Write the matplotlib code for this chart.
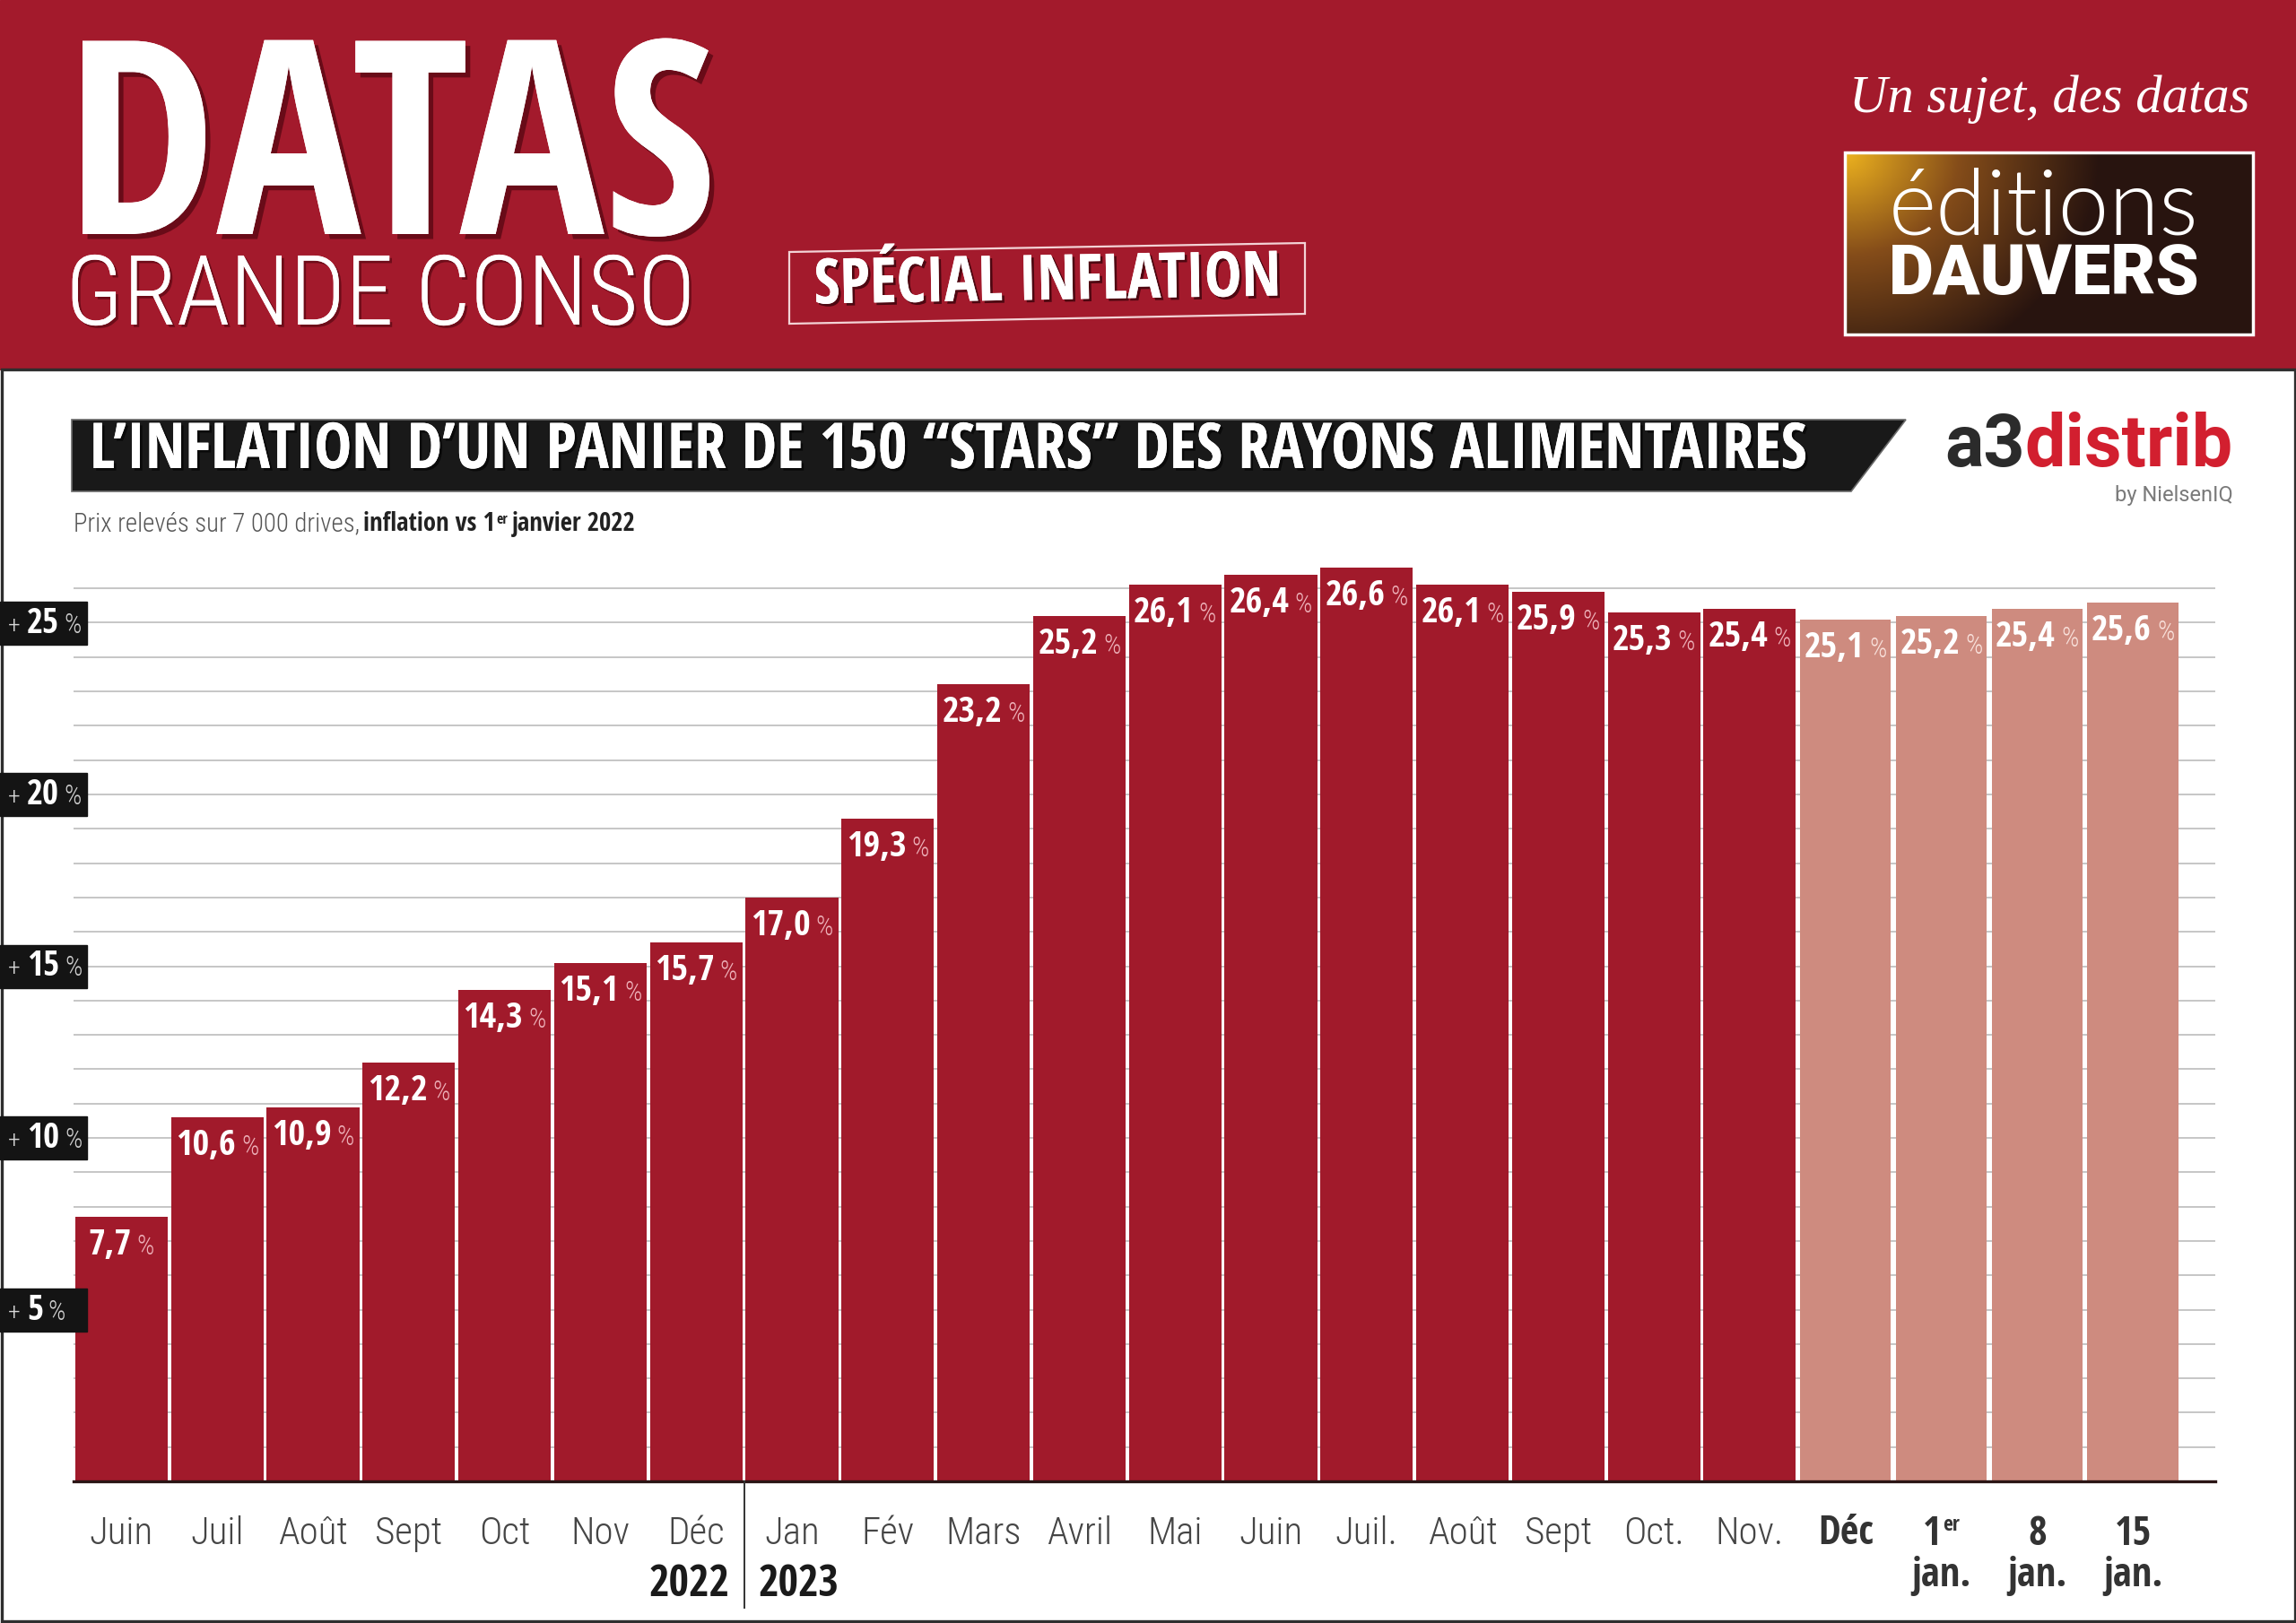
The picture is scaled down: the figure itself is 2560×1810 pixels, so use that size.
import numpy as np
import matplotlib
matplotlib.use("Agg")
import matplotlib.pyplot as plt
import matplotlib.font_manager as fm
import matplotlib.patheffects as pe
from matplotlib.patches import Rectangle, Polygon

# ---------------- data ----------------
months = ['Juin', 'Juil', 'Août', 'Sept', 'Oct', 'Nov', 'Déc',
          'Jan', 'Fév', 'Mars', 'Avril', 'Mai', 'Juin', 'Juil.', 'Août',
          'Sept', 'Oct.', 'Nov.']
monthly_values = [7.7, 10.6, 10.9, 12.2, 14.3, 15.1, 15.7,
                  17.0, 19.3, 23.2, 25.2, 26.1, 26.4, 26.6, 26.1,
                  25.9, 25.3, 25.4]
weekly_top = ['Déc', '1', '8', '15']
weekly_sup = ['', 'er', '', '']
weekly_bottom = ['', 'jan.', 'jan.', 'jan.']
weekly_values = [25.1, 25.2, 25.4, 25.6]
y_ticks = [5, 10, 15, 20, 25]
years = ['2022', '2023']

title = "L’INFLATION D’UN PANIER DE 150 “STARS” DES RAYONS ALIMENTAIRES"

RED = '#A11A2B'
PINK = '#CE8B7F'
HEAD = '#A31A2C'

# ---------------- fonts ----------------
def _wt(f):
    w = f.weight
    if isinstance(w, str):
        w = fm.weight_dict.get(w, 400)
    return int(w)

def find_font(cands, target, style='normal', tol=160):
    for fam, stretch in cands:
        best, bd = None, 1e9
        for f in fm.fontManager.ttflist:
            if f.name != fam or f.style != style:
                continue
            if stretch is not None and f.stretch != stretch:
                continue
            d = abs(_wt(f) - target)
            if d < bd:
                best, bd = f, d
        if best is not None and bd <= tol:
            return fm.FontProperties(fname=best.fname)
    return None

COND_BOLD = [('Open Sans Condensed', None), ('Open Sans', 'condensed'),
             ('Roboto Condensed', None), ('Noto Sans', 'condensed'),
             ('Noto Sans Condensed', None), ('Liberation Sans Narrow', None),
             ('DejaVu Sans', 'condensed'), ('Open Sans', 'semi-condensed'),
             ('Noto Sans', 'semi-condensed')]
COND_LIGHT = [('Roboto Condensed', None), ('Open Sans Condensed', None),
              ('Open Sans', 'condensed'), ('Noto Sans', 'condensed'),
              ('Noto Sans Condensed', None), ('Liberation Sans Narrow', None),
              ('DejaVu Sans', 'condensed'), ('Open Sans', 'semi-condensed'),
              ('Noto Sans', 'semi-condensed')]

FB = find_font(COND_BOLD, 700) or fm.FontProperties(family='DejaVu Sans', weight='bold')
FBK = find_font(COND_BOLD, 900, tol=250) or FB
FL = find_font(COND_LIGHT, 300, tol=120) or find_font(COND_LIGHT, 400) or \
    fm.FontProperties(family='DejaVu Sans', weight='light')
SANS_R = find_font([('Roboto', 'normal'), ('Liberation Sans', 'normal'),
                    ('Open Sans', 'normal'), ('Lato', 'normal')], 400) or \
    fm.FontProperties(family='DejaVu Sans')
SANS_B = find_font([('Roboto', 'normal'), ('Liberation Sans', 'normal'),
                    ('Open Sans', 'normal'), ('Lato', 'normal')], 700) or \
    fm.FontProperties(family='DejaVu Sans', weight='bold')
SANS_BK = find_font([('Roboto', 'normal'), ('Lato', 'normal'),
                     ('Open Sans', 'normal')], 900, tol=120) or SANS_B
SANS_L = find_font([('Lato', 'normal'), ('Roboto', 'normal'),
                    ('Open Sans', 'normal'), ('Noto Sans', 'normal')], 300, tol=100) or SANS_R
SERIF_I = find_font([('Liberation Serif', None), ('DejaVu Serif', None)], 400,
                    style='italic') or fm.FontProperties(family='serif', style='italic')

# ---------------- figure ----------------
W, H = 2560, 1810
fig = plt.figure(figsize=(W / 100, H / 100), dpi=100, facecolor='white')
bg = fig.add_axes([0, 0, 1, 1], zorder=0)
bg.set_xlim(0, W)
bg.set_ylim(H, 0)
bg.set_autoscale_on(False)
bg.axis('off')

R = fig.canvas.get_renderer()


def tw(s, prop, size):
    p = prop.copy()
    p.set_size(size)
    w, h, d = R.get_text_width_height_descent(s, p, ismath=False)
    return w


def fp(prop, size):
    p = prop.copy()
    p.set_size(size)
    return p


def place_fit(x, y, s, prop, target_w, color='white', ha='left', va='baseline', **kw):
    size = 100 * target_w / tw(s, prop, 100)
    return bg.text(x, y, s, fontproperties=fp(prop, size), color=color,
                   ha=ha, va=va, **kw)


def seq_bg(x, y, pieces, total_w=None, **kw):
    # pieces: (text, prop, size, color, dy, gap_after)
    widths = [tw(s, p, sz) for s, p, sz, c, dy, g in pieces]
    gaps = [g for s, p, sz, c, dy, g in pieces]
    k = 1.0
    if total_w:
        k = total_w / (sum(widths) + sum(gaps[:-1]))
    cx = x
    for (s, p, sz, c, dy, g), w in zip(pieces, widths):
        bg.text(cx, y + dy * k, s, fontproperties=fp(p, sz * k), color=c,
                ha='left', va='baseline', **kw)
        cx += (w + g) * k
    return k


# ---------------- header ----------------
bg.add_patch(Rectangle((0, 0), W, 412, color=HEAD, zorder=1))
shadow = [pe.withSimplePatchShadow(offset=(4, -4), shadow_rgbFace='#3a0008', alpha=0.55),
          pe.Normal()]
place_fit(73, 261, 'DATAS', FBK, 725, path_effects=shadow, zorder=3)
place_fit(73, 362, 'GRANDE CONSO', FL, 702, zorder=3,
          path_effects=[pe.withSimplePatchShadow(offset=(2, -2), shadow_rgbFace='#3a0008',
                                                 alpha=0.5), pe.Normal()])

bg.add_patch(Polygon([(880, 281), (1455, 271), (1455, 350), (880, 361)], closed=True,
                     fill=False, edgecolor='#F3D3D6', lw=1.6, zorder=3))
sp_size = 100 * 521 / tw('SPÉCIAL INFLATION', FB, 100)
bg.text(1168, 316, 'SPÉCIAL INFLATION', fontproperties=fp(FB, sp_size), color='white',
        ha='center', va='center', rotation=1, rotation_mode='anchor', zorder=4,
        path_effects=[pe.withSimplePatchShadow(offset=(2, -2), shadow_rgbFace='#2a0006',
                                               alpha=0.7), pe.Normal()])

place_fit(2062, 125, 'Un sujet, des datas', SERIF_I, 446, zorder=3)

# logo box with gradient
gh, gw = 200, 455
yy, xx = np.mgrid[0:gh, 0:gw]
t = np.clip(np.sqrt((xx / (0.62 * gw)) ** 2 + (yy / (1.25 * gh)) ** 2), 0, 1)
gold = np.array([0.93, 0.70, 0.12])
bronze = np.array([0.52, 0.30, 0.10])
dark = np.array([0.16, 0.08, 0.06])
t1 = np.clip(t / 0.45, 0, 1)[..., None]
t2 = np.clip((t - 0.45) / 0.55, 0, 1)[..., None]
img = np.where(t[..., None] < 0.45, gold * (1 - t1) + bronze * t1,
               bronze * (1 - t2) + dark * t2)
bg.imshow(img, extent=[2057, 2512, 373, 170], origin='upper', aspect='auto',
          zorder=2, interpolation='bilinear')
bg.add_patch(Rectangle((2057, 170), 455, 203, fill=False, edgecolor='white', lw=2.5,
                       zorder=3))
place_fit(2106, 262, 'éditions', SANS_L, 345, zorder=4)
place_fit(2106, 328, 'DAUVERS', SANS_BK, 347, zorder=4)
bg.set_xlim(0, W)
bg.set_ylim(H, 0)

# white panel frame
bg.add_patch(Rectangle((1.5, 412), W - 3, 1807.5 - 412, fill=False,
                       edgecolor='#2e2e2e', lw=2.4, zorder=1))

# ---------------- title bar ----------------
bg.add_patch(Polygon([(80, 468), (2125, 468), (2064, 548), (80, 548)], closed=True,
                     facecolor='#191919', edgecolor='#6a6a6a', lw=1.2, zorder=2))
place_fit(100, 522, title, FB, 1915, zorder=3,
          path_effects=[pe.withSimplePatchShadow(offset=(2, -2), shadow_rgbFace='black',
                                                 alpha=0.6), pe.Normal()])

# a3distrib logo
seq_bg(2168, 520, [('a3', SANS_B, 60, '#2B2B2B', 0, 0),
                   ('distrib', SANS_B, 60, '#D21F2F', 0, 0)], total_w=322, zorder=3)
bg.text(2490, 559, 'by NielsenIQ', fontproperties=fp(SANS_R, 17), color='#7A7A7A',
        ha='right', va='baseline', zorder=3)

# subtitle
sp = tw('a a', FL, 20) - tw('aa', FL, 20)
seq_bg(82, 592, [('Prix relevés sur 7 000 drives,', FL, 20, '#555555', 0, sp),
                 ('inflation vs 1', FB, 20, '#222222', 0, 1),
                 ('er', FB, 11, '#222222', -8, sp * 0.8),
                 ('janvier 2022', FB, 20, '#222222', 0, 0)], total_w=627, zorder=3)

# ---------------- chart ----------------
left_px, right_px, base_px, top_px = 82, 2470, 1652, 620
ax = fig.add_axes([left_px / W, (H - base_px) / H, (right_px - left_px) / W,
                   (base_px - top_px) / H], zorder=2)
ax.patch.set_alpha(0)
ppu = 38.3
ax.set_xlim(-0.5, 21.86)
ax.set_ylim(0, (base_px - top_px) / ppu)
for s in ax.spines.values():
    s.set_visible(False)
ax.set_xticks([])
ax.set_yticks([])

for g in range(1, 27):
    ax.axhline(g, color='#C6C6C6', lw=1.4, zorder=0)

n_m = len(monthly_values)
x_m = np.arange(n_m)
x_w = np.arange(n_m, n_m + len(weekly_values))
ax.bar(x_m, monthly_values, width=0.965, color=RED, zorder=2)
ax.bar(x_w, weekly_values, width=0.95, color=PINK, zorder=2)
ax.axhline(0, color='#2A1414', lw=2.4, zorder=3, clip_on=False)

axw = right_px - left_px
axh = base_px - top_px
unit_px = axw / (21.86 + 0.5)

# bar value labels
all_vals = list(monthly_values) + list(weekly_values)
num_size, pct_size, gap = 29, 22, 6
maxtot = max(tw(f"{v:.1f}".replace('.', ','), FB, num_size) + gap + tw('%', FL, pct_size)
             for v in all_vals)
k = min(1.0, 0.92 * 0.965 * unit_px / maxtot)
for i, v in enumerate(all_vals):
    s = f"{v:.1f}".replace('.', ',')
    wn = tw(s, FB, num_size * k)
    wp = tw('%', FL, pct_size * k)
    tot = wn + gap * k + wp
    pcol = '#EDB0B8' if i < n_m else '#F8E0DA'
    ax.annotate(s, xy=(i, v), xytext=(-tot / 2, -42), textcoords='offset pixels',
                ha='left', va='baseline', color='white',
                fontproperties=fp(FB, num_size * k), zorder=5)
    ax.annotate('%', xy=(i, v), xytext=(-tot / 2 + wn + gap * k, -42),
                textcoords='offset pixels', ha='left', va='baseline', color=pcol,
                fontproperties=fp(FL, pct_size * k), zorder=5)

# y labels (black tabs)
ytr = ax.get_yaxis_transform()
for v in y_ticks:
    ax.add_patch(Rectangle((-left_px / axw, v - 24 / ppu), 97 / axw, 48 / ppu,
                           transform=ytr, color='#141414', zorder=6, clip_on=False))
    wplus = tw('+', FL, 20)
    wnum = tw(str(v), FB, 28)
    x0 = 9
    ax.annotate('+', xy=(0, v), xycoords=ytr, xytext=(x0 - left_px, -11),
                textcoords='offset pixels', ha='left', va='baseline', color='#D8D8D8',
                fontproperties=fp(FL, 20), zorder=7, annotation_clip=False)
    x1 = x0 + wplus + 7
    ax.annotate(str(v), xy=(0, v), xycoords=ytr, xytext=(x1 - left_px, -11),
                textcoords='offset pixels', ha='left', va='baseline', color='white',
                fontproperties=fp(FB, 28), zorder=7, annotation_clip=False)
    x2 = x1 + wnum + 6
    ax.annotate('%', xy=(0, v), xycoords=ytr, xytext=(x2 - left_px, -11),
                textcoords='offset pixels', ha='left', va='baseline', color='#D0D0D0',
                fontproperties=fp(FL, 22), zorder=7, annotation_clip=False)

# x labels
xtr = ax.get_xaxis_transform()
msize = 31
maxw = max(tw(m, FL, msize) for m in months)
msize = msize * min(1.0, 0.95 * unit_px / maxw)
for i, m in enumerate(months):
    ax.annotate(m, xy=(i, 0), xycoords=xtr, xytext=(0, -70), textcoords='offset pixels',
                ha='center', va='baseline', color='#454545',
                fontproperties=fp(FL, msize), annotation_clip=False)

wsize = 32
for j, (top, sup, bot) in enumerate(zip(weekly_top, weekly_sup, weekly_bottom)):
    xi = n_m + j
    if sup:
        w1 = tw(top, FB, wsize)
        w2 = tw(sup, FB, 17)
        tot = w1 + 2 + w2
        ax.annotate(top, xy=(xi, 0), xycoords=xtr, xytext=(-tot / 2, -71),
                    textcoords='offset pixels', ha='left', va='baseline', color='#333333',
                    fontproperties=fp(FB, wsize), annotation_clip=False)
        ax.annotate(sup, xy=(xi, 0), xycoords=xtr, xytext=(-tot / 2 + w1 + 2, -55),
                    textcoords='offset pixels', ha='left', va='baseline', color='#333333',
                    fontproperties=fp(FB, 17), annotation_clip=False)
    else:
        ax.annotate(top, xy=(xi, 0), xycoords=xtr, xytext=(0, -71 if bot else -70),
                    textcoords='offset pixels', ha='center', va='baseline',
                    color='#333333', fontproperties=fp(FB, wsize), annotation_clip=False)
    if bot:
        ax.annotate(bot, xy=(xi, 0), xycoords=xtr, xytext=(0, -117),
                    textcoords='offset pixels', ha='center', va='baseline',
                    color='#333333', fontproperties=fp(FB, wsize), annotation_clip=False)

# year separator and labels
sep = 6.5
ax.plot([sep, sep], [0, -(1793 - base_px) / axh], transform=xtr, color='#333333',
        lw=1.4, clip_on=False, zorder=3)
ax.annotate(years[0], xy=(sep, 0), xycoords=xtr, xytext=(-16, -128),
            textcoords='offset pixels', ha='right', va='baseline', color='#1A1A1A',
            fontproperties=fp(FB, 35), annotation_clip=False)
ax.annotate(years[1], xy=(sep, 0), xycoords=xtr, xytext=(16, -128),
            textcoords='offset pixels', ha='left', va='baseline', color='#1A1A1A',
            fontproperties=fp(FB, 35), annotation_clip=False)

fig.savefig('out.png', dpi=100, facecolor='white')
